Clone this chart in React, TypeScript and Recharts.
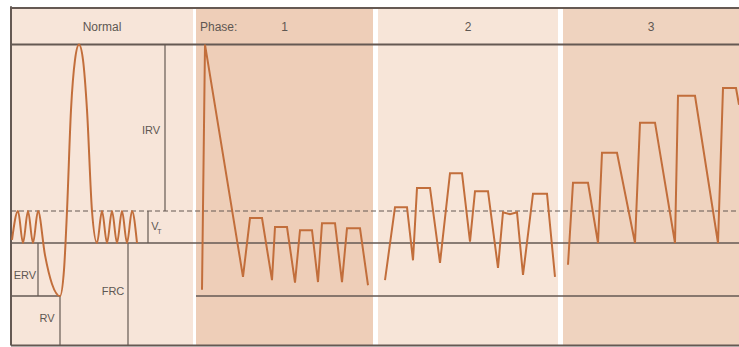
import React from "react";
import {
  LineChart, Line, XAxis, YAxis, ReferenceArea, ReferenceLine, ReferenceDot,
} from "recharts";

// Lung volume levels, litres
const TLC = 5.6;
const VT_TOP = 3.0;
const FRC = 2.5;
const RV = 1.67;
const FRAME_TOP = 6.17;
const FRAME_BOTTOM = 0.9;

// Panels along the time axis (seconds)
const panelNames = ["Normal", "1", "2", "3"];
const panelStart = [0, 18.5, 36.7, 55.2];
const panelEnd = [18.2, 36.2, 54.7, 72.8];
const panelFill = ["#f7e5d9", "#eeceb8", "#f7e5d8", "#efd3bf"];

// Normal spirogram: tidal breaths, max expiration, max inspiration, tidal breaths
const normalT = [0.1, 0.7, 1.2, 1.7, 2.2, 2.7, 3.4, 4.1, 4.9, 5.3, 5.6, 6.0, 6.4, 6.8, 7.2, 7.6, 8.1, 8.6, 9.1, 9.6, 10.1, 10.6, 11.1, 11.6, 12.1, 12.6];
const normalV = [2.55, 3.0, 2.5, 3.0, 2.5, 3.0, 2.31, 1.86, 1.67, 2.08, 3.0, 4.58, 5.36, 5.6, 5.36, 4.58, 3.0, 2.5, 3.0, 2.5, 3.0, 2.5, 3.0, 2.5, 3.0, 2.5];

// Phase 1
const phase1T = [19.1, 19.4, 23.2, 23.9, 25.1, 26.1, 26.4, 27.6, 28.4, 28.9, 30.1, 30.7, 31.1, 32.4, 33.1, 33.6, 34.9, 35.7];
const phase1V = [1.77, 5.6, 1.97, 2.89, 2.89, 1.92, 2.75, 2.75, 1.88, 2.7, 2.7, 1.89, 2.81, 2.81, 1.89, 2.73, 2.73, 1.84];

// Phase 2
const phase2T = [37.4, 38.4, 39.6, 40.2, 40.6, 41.9, 42.9, 43.9, 45.1, 45.9, 46.4, 47.7, 48.7, 49.2, 49.9, 50.6, 51.2, 52.2, 53.6, 54.4];
const phase2V = [1.92, 3.06, 3.06, 2.23, 3.36, 3.36, 2.19, 3.59, 3.59, 2.52, 3.31, 3.31, 2.11, 2.98, 2.95, 2.98, 2.0, 3.27, 3.27, 1.97];

// Phase 3
const phase3T = [55.7, 56.2, 57.7, 58.7, 59.1, 60.6, 62.4, 62.9, 64.4, 66.4, 66.7, 68.4, 70.7, 71.2, 72.5, 72.8];
const phase3V = [2.16, 3.44, 3.44, 2.5, 3.91, 3.91, 2.5, 4.38, 4.38, 2.5, 4.8, 4.8, 2.5, 4.92, 4.92, 4.66];

// Bracket lines of the normal panel: [t, from, to]
const bracketT = [15.4, 13.7, 2.7, 4.9, 11.7];
const bracketFrom = [VT_TOP, FRC, RV, FRAME_BOTTOM, FRAME_BOTTOM];
const bracketTo = [TLC, VT_TOP, FRC, RV, FRC];

// Volume labels: text, t, v
const volLabels = ["IRV", "ERV", "FRC", "RV"];
const volLabelT = [14.0, 1.4, 10.2, 3.6];
const volLabelV = [4.26, 2.0, 1.75, 1.32];

const zip = (t: number[], v: number[]) => t.map((x, i) => ({ t: x, v: v[i] }));

const INK = "#655953";
const TRACE = "#c26e3b";
const FONT = "'Liberation Sans', Arial, sans-serif";

export default function App() {
  const traces = [zip(phase1T, phase1V), zip(phase2T, phase2V), zip(phase3T, phase3V)];
  return (
    <div style={{ position: "absolute", left: 0, top: 0, width: 739, height: 347, background: "#fff" }}>
      <LineChart
        width={739}
        height={347}
        margin={{ top: 6.2, right: 0, bottom: 1.6, left: 11 }}
        style={{ fontFamily: FONT }}
      >
        <XAxis type="number" dataKey="t" domain={[0, 72.8]} allowDataOverflow hide />
        <YAxis type="number" dataKey="v" domain={[FRAME_BOTTOM, 6.2]} allowDataOverflow hide />

        {panelNames.map((n, i) => (
          <ReferenceArea
            key={"bg" + n}
            x1={panelStart[i]} x2={panelEnd[i]} y1={FRAME_BOTTOM} y2={FRAME_TOP}
            fill={panelFill[i]} fillOpacity={1} stroke="none" ifOverflow="visible"
          />
        ))}
        {panelNames.map((n, i) => (
          <ReferenceArea
            key={"hd" + n}
            x1={panelStart[i]} x2={panelEnd[i]} y1={TLC} y2={FRAME_TOP}
            fill="none" stroke="none" ifOverflow="visible"
            label={{ value: n, position: "center", fill: "#5e5752", fontSize: 12, fontFamily: FONT }}
          />
        ))}
        <ReferenceArea
          x1={panelStart[1]} x2={panelEnd[1]} y1={TLC} y2={FRAME_TOP}
          fill="none" stroke="none" ifOverflow="visible"
          label={{ value: "Phase:", position: "insideLeft", offset: 4, fill: "#5e5752", fontSize: 12, fontFamily: FONT }}
        />

        {/* frame */}
        <ReferenceLine y={FRAME_TOP} stroke={INK} strokeWidth={2} ifOverflow="visible" />
        <ReferenceLine y={FRAME_BOTTOM} stroke={INK} strokeWidth={2} ifOverflow="visible" />
        <ReferenceLine x={0} stroke={INK} strokeWidth={2} ifOverflow="visible" />

        {/* volume levels */}
        <ReferenceLine y={TLC} stroke={INK} strokeWidth={2} ifOverflow="visible" />
        <ReferenceLine y={VT_TOP} stroke={INK} strokeWidth={1.2} strokeDasharray="5 3" ifOverflow="visible" />
        <ReferenceLine y={FRC} stroke={INK} strokeWidth={1.5} ifOverflow="visible" />
        <ReferenceLine segment={[{ x: 0, y: RV }, { x: 4.9, y: RV }]} stroke={INK} strokeWidth={1.5} ifOverflow="visible" />
        <ReferenceLine segment={[{ x: panelStart[1], y: RV }, { x: 72.8, y: RV }]} stroke={INK} strokeWidth={1.5} ifOverflow="visible" />
        {bracketT.map((t, i) => (
          <ReferenceLine
            key={"br" + i}
            segment={[{ x: t, y: bracketFrom[i] }, { x: t, y: bracketTo[i] }]}
            stroke={INK} strokeWidth={1.2} ifOverflow="visible"
          />
        ))}

        {volLabels.map((s, i) => (
          <ReferenceDot
            key={"lb" + s}
            x={volLabelT[i]} y={volLabelV[i]} r={1} fill="none" stroke="none"
            label={{ value: s, position: "center", fill: "#5e5752", fontSize: 11, fontFamily: FONT }}
          />
        ))}
        <ReferenceDot x={14.4} y={2.76} r={1} fill="none" stroke="none"
          label={{ value: "V", position: "center", fill: "#5e5752", fontSize: 11, fontFamily: FONT }} />
        <ReferenceDot x={14.85} y={2.68} r={1} fill="none" stroke="none"
          label={{ value: "T", position: "center", fill: "#5e5752", fontSize: 7, fontFamily: FONT }} />

        <Line
          data={zip(normalT, normalV)} dataKey="v" type="monotone"
          stroke={TRACE} strokeWidth={2} dot={false} isAnimationActive={false}
        />
        {traces.map((d, i) => (
          <Line
            key={"ph" + i}
            data={d} dataKey="v" type="linear"
            stroke={TRACE} strokeWidth={2} dot={false} isAnimationActive={false}
          />
        ))}
      </LineChart>
    </div>
  );
}
